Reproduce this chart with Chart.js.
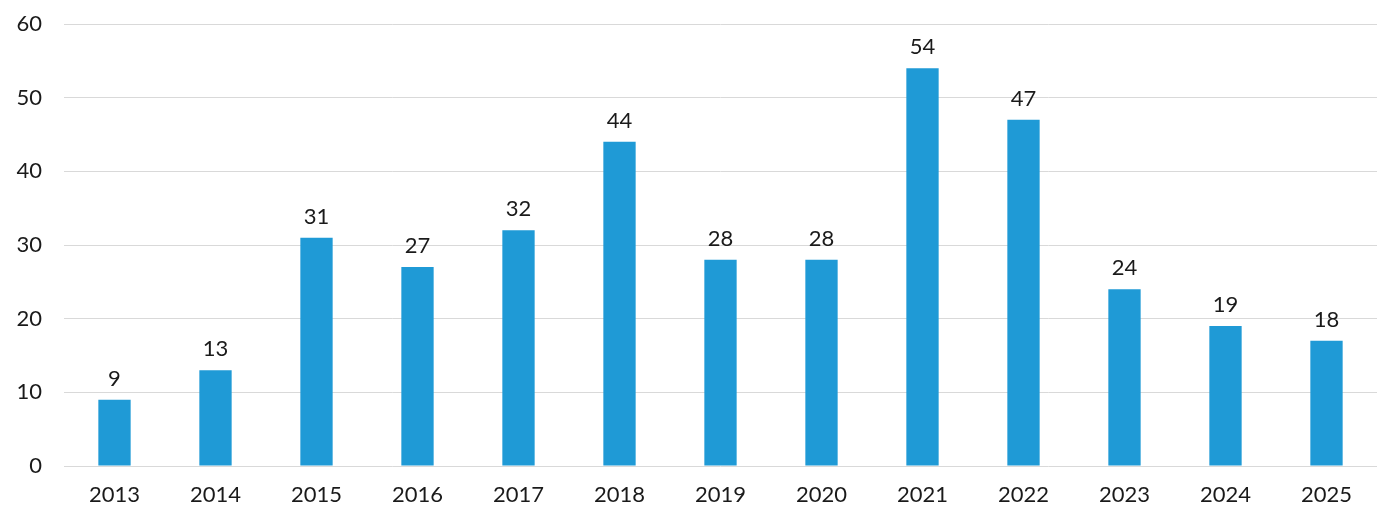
<!DOCTYPE html>
<html lang="en">
  <head>
    <meta charset="UTF-8" />
    <title>Bar chart 2013-2025</title>
    <script src="https://cdn.jsdelivr.net/npm/chart.js"></script>
    <style>
      * {
        margin: 0;
        padding: 0;
        box-sizing: border-box;
      }

      body {
        background: #ffffff;
        width: 1400px;
        height: 523px;
        overflow: hidden;
      }

      .wrap {
        position: relative;
        width: 1400px;
        height: 523px;
      }
    </style>
  </head>
  <body>
    <div class="wrap">
      <canvas id="barChart"></canvas>
    </div>

    <script>
      const years = ["2013", "2014", "2015", "2016", "2017", "2018", "2019",
        "2020", "2021", "2022", "2023", "2024", "2025"];
      const counts = [9, 13, 31, 27, 32, 44, 28, 28, 54, 47, 24, 19, 17];
      // the printed labels (2025 reads 18 above a bar drawn at ~17)
      const countLabels = ["9", "13", "31", "27", "32", "44", "28", "28",
        "54", "47", "24", "19", "18"];
      const yTicks = [0, 10, 20, 30, 40, 50, 60];

      const FONT = "'Lato', 'Open Sans', sans-serif";

      // value labels above each bar
      const barLabels = {
        id: "barLabels",
        afterDatasetsDraw(chart) {
          const ctx = chart.ctx;
          const meta = chart.getDatasetMeta(0);
          ctx.save();
          ctx.font = "22px " + FONT;
          ctx.fillStyle = "#1a1a1a";
          ctx.textAlign = "center";
          ctx.textBaseline = "bottom";
          meta.data.forEach((bar, i) => {
            ctx.fillText(countLabels[i], bar.x, bar.y - 10);
          });
          ctx.restore();
        },
      };

      const ctx = document.getElementById("barChart").getContext("2d");
      const barChart = new Chart(ctx, {
        type: "bar",
        data: {
          labels: years,
          datasets: [
            {
              data: counts,
              backgroundColor: "#1f9ad6",
              barPercentage: 0.64,
              categoryPercentage: 0.5,
            },
          ],
        },
        options: {
          responsive: true,
          maintainAspectRatio: false,
          animation: false,
          layout: { padding: { top: 24, right: 23, left: 0, bottom: 0 } },
          plugins: {
            legend: { display: false },
            tooltip: { enabled: false },
          },
          scales: {
            x: {
              grid: { display: false, drawTicks: false },
              border: { display: false },
              ticks: {
                color: "#1a1a1a",
                font: { family: FONT, size: 22 },
                padding: 16,
                maxRotation: 0,
              },
              afterFit(scale) {
                scale.height = 57;
                scale.paddingLeft = 0;
                scale.paddingRight = 0;
              },
            },
            y: {
              min: 0,
              max: 60,
              afterBuildTicks(scale) {
                scale.ticks = yTicks.map((v) => ({ value: v }));
              },
              grid: { color: "#d9d9d9", lineWidth: 1, drawTicks: false },
              border: { display: false },
              ticks: {
                color: "#1a1a1a",
                font: { family: FONT, size: 22 },
                padding: 22,
              },
              afterFit(scale) {
                scale.width = 64;
                scale.paddingTop = 0;
                scale.paddingBottom = 0;
              },
            },
          },
        },
        plugins: [barLabels],
      });
    </script>
  </body>
</html>
